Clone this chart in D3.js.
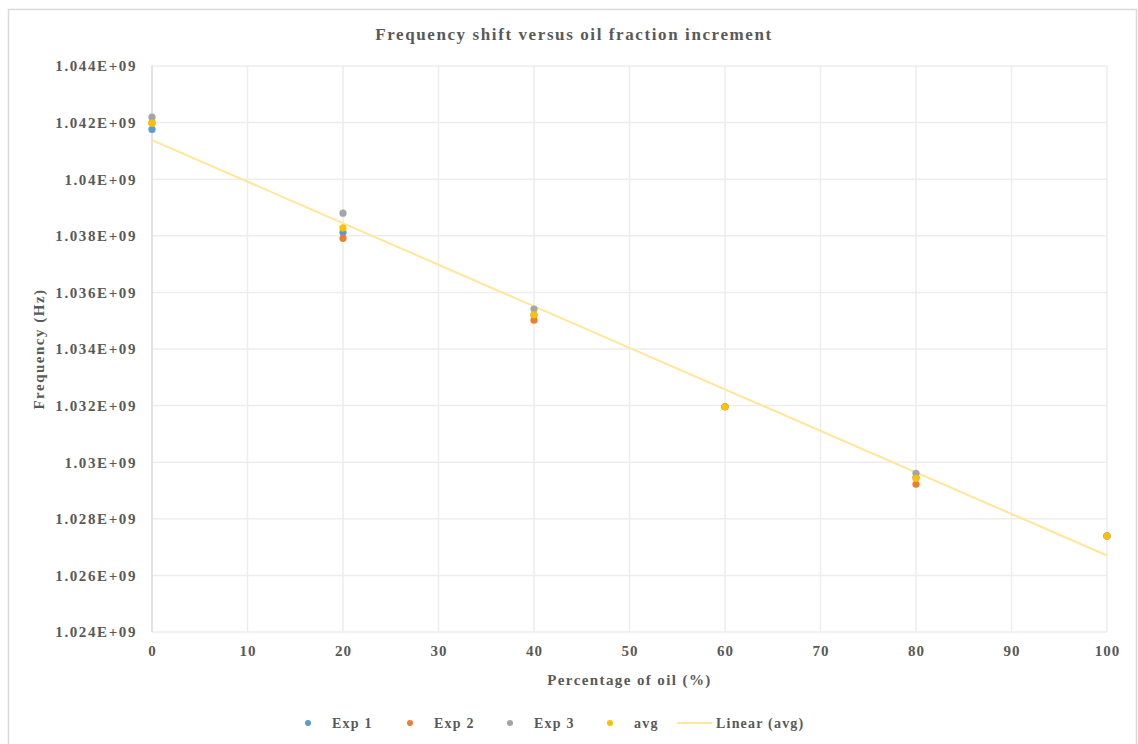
<!DOCTYPE html>
<html><head><meta charset="utf-8">
<script src="https://cdn.jsdelivr.net/npm/d3@7"></script>
<style>
body{margin:0;background:#fff;}
text{font-family:"Liberation Serif","Times New Roman",serif;}
</style></head>
<body><svg id="c" width="1138" height="744"></svg>
<script>
const oilPct = [0, 20, 40, 60, 80, 100];
const exp1 = [1.04176e9, 1.03812e9, 1.03520e9, 1.03196e9, 1.02946e9, 1.02739e9];
const exp2 = [1.04199e9, 1.03791e9, 1.03502e9, 1.03196e9, 1.02922e9, 1.02739e9];
const exp3 = [1.04219e9, 1.03880e9, 1.03541e9, 1.03196e9, 1.02961e9, 1.02739e9];
const avg  = [1.04198e9, 1.03828e9, 1.03521e9, 1.03196e9, 1.02943e9, 1.02739e9];
const xTicks = [0,10,20,30,40,50,60,70,80,90,100];
const yTicks = [1.024e9,1.026e9,1.028e9,1.030e9,1.032e9,1.034e9,1.036e9,1.038e9,1.040e9,1.042e9,1.044e9];
const yTickLabels = ["1.024E+09","1.026E+09","1.028E+09","1.03E+09","1.032E+09","1.034E+09","1.036E+09","1.038E+09","1.04E+09","1.042E+09","1.044E+09"];
const seriesNames = ["Exp 1","Exp 2","Exp 3","avg"];
const seriesColors = ["#5B9BD5","#ED7D31","#A5A5A5","#FFC000"];
const seriesData = [exp1, exp2, exp3, avg];

const svg = d3.select("#c");
const L=152, R=1107, T=66, B=632;
const x = d3.scaleLinear().domain([0,100]).range([L,R]);
const y = d3.scaleLinear().domain([1.024e9,1.044e9]).range([B,T]);

svg.append("rect").attr("x",8.5).attr("y",9.5).attr("width",1128).attr("height",745)
  .attr("fill","#fff").attr("stroke","#D9D9D9").attr("stroke-width",1.5);

svg.append("text").attr("x",574).attr("y",40).attr("text-anchor","middle")
  .attr("font-size",17).attr("font-weight","bold").attr("fill","#595959")
  .attr("letter-spacing","1.6").text("Frequency shift versus oil fraction increment");

// gridlines
const gx = svg.append("g");
gx.selectAll("line.h").data(yTicks).join("line")
  .attr("x1",L).attr("x2",R).attr("y1",d=>y(d)).attr("y2",d=>y(d))
  .attr("stroke","#EDEDED").attr("stroke-width",1.5);
gx.selectAll("line.v").data(xTicks).join("line")
  .attr("y1",T).attr("y2",B).attr("x1",d=>x(d)).attr("x2",d=>x(d))
  .attr("stroke",d=>d===0?"#D9D9D9":"#EDEDED").attr("stroke-width",1.5);

// axes labels via d3 axes
const yAxis = d3.axisLeft(y).tickValues(yTicks).tickSize(0).tickPadding(15)
  .tickFormat((d,i)=>yTickLabels[i]);
const ya = svg.append("g").attr("transform",`translate(${L},0)`).call(yAxis);
ya.select(".domain").remove();
ya.selectAll("text").attr("font-size",15).attr("font-weight","bold").attr("fill","#595959")
  .attr("letter-spacing","1.6");

const xAxis = d3.axisBottom(x).tickValues(xTicks).tickSize(0).tickPadding(13);
const xa = svg.append("g").attr("transform",`translate(0,${B})`).call(xAxis);
xa.select(".domain").remove();
xa.selectAll("text").attr("font-size",15).attr("font-weight","bold").attr("fill","#595959")
  .attr("letter-spacing","1");

svg.append("text").attr("x",(L+R)/2).attr("y",685).attr("text-anchor","middle")
  .attr("font-size",15).attr("font-weight","bold").attr("fill","#595959")
  .attr("letter-spacing","1.4").text("Percentage of oil (%)");
svg.append("text").attr("transform",`translate(44,${(T+B)/2}) rotate(-90)`).attr("text-anchor","middle")
  .attr("font-size",15).attr("font-weight","bold").attr("fill","#595959")
  .attr("letter-spacing","1.5").text("Frequency (Hz)");

// linear trendline of avg (least squares)
const mx = d3.mean(oilPct), my = d3.mean(avg);
const slope = d3.sum(oilPct.map((v,i)=>(v-mx)*(avg[i]-my))) / d3.sum(oilPct.map(v=>(v-mx)*(v-mx)));
const icpt = my - slope*mx;
svg.append("line").attr("x1",x(0)).attr("x2",x(100))
  .attr("y1",y(icpt)).attr("y2",y(icpt+slope*100))
  .attr("stroke","#FFE699").attr("stroke-width",2);

[0,1,2,3].forEach(si=>{
  svg.append("g").selectAll("circle").data(oilPct).join("circle")
    .attr("cx",d=>x(d)).attr("cy",(d,i)=>y(seriesData[si][i])).attr("r",3.6)
    .attr("fill",seriesColors[si]);
});

// legend
const legX = [308,410,510,610];
const lg = svg.append("g");
seriesNames.forEach((n,i)=>{
  lg.append("circle").attr("cx",legX[i]).attr("cy",723).attr("r",3).attr("fill",seriesColors[i]);
  lg.append("text").attr("x",legX[i]+24).attr("y",728).attr("font-size",14).attr("font-weight","bold")
    .attr("fill","#595959").attr("letter-spacing","1.2").text(n);
});
lg.append("line").attr("x1",677).attr("x2",712).attr("y1",723).attr("y2",723)
  .attr("stroke","#FFE699").attr("stroke-width",2);
lg.append("text").attr("x",716).attr("y",728).attr("font-size",14).attr("font-weight","bold")
  .attr("fill","#595959").attr("letter-spacing","1.2").text("Linear (avg)");
</script></body></html>
